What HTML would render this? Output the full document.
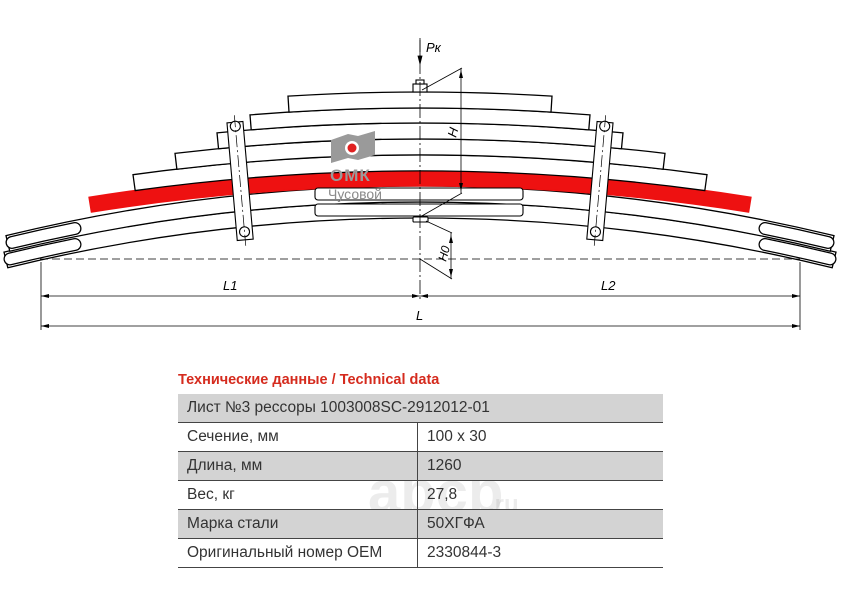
<!DOCTYPE html>
<html><head><meta charset="utf-8">
<style>
body{margin:0;background:#fff;width:842px;height:595px;overflow:hidden;font-family:"Liberation Sans",sans-serif}
#t{position:absolute;left:178px;top:394px;border-collapse:collapse;width:485px;font-size:15.5px;color:#333}
#t td{height:28px;padding:0 0 0 9px;line-height:28px;border-bottom:1px solid #444;vertical-align:middle}
#t tr.g td{background:#d3d3d3}
#t td.c2{border-left:1px solid #444}
#title{position:absolute;left:178px;top:372px;color:#d52b1e;font-weight:bold;font-size:14.5px}
</style></head><body>
<svg id="s" width="842" height="595" style="position:absolute;left:0;top:0" xmlns="http://www.w3.org/2000/svg">
<g id="leaves" stroke="#000" stroke-width="1.3" fill="#fff"></g>
<g stroke="#000" stroke-width="1.1" fill="#fff">
<rect x="315" y="188" width="208" height="12" rx="3"/>
<rect x="315" y="204" width="208" height="12" rx="3"/>
<g transform="rotate(-5 240 180)"><rect x="232" y="122" width="16" height="118"/><circle cx="240" cy="126" r="5"/><circle cx="240" cy="232" r="5"/><line x1="240" y1="115" x2="240" y2="246" stroke-dasharray="12 3 2 3" stroke-width="0.7"/></g>
<g transform="rotate(5 600 180)"><rect x="592" y="122" width="16" height="118"/><circle cx="600" cy="126" r="5"/><circle cx="600" cy="232" r="5"/><line x1="600" y1="115" x2="600" y2="246" stroke-dasharray="12 3 2 3" stroke-width="0.7"/></g>
<rect x="413" y="84" width="14" height="8"/><rect x="416" y="80" width="8" height="4"/>
<rect x="413" y="217" width="15" height="5" rx="1"/>
</g>
<g>
<path d="M331 140 L348 134 L358 136 L375 131 L375 155 L358 160 L348 158 L331 163Z" fill="#9a9a9a"/>
<circle cx="352" cy="148" r="7" fill="#fff"/><circle cx="352" cy="148" r="4.5" fill="#e02020"/>
<text x="330" y="181" font-size="17" font-weight="bold" fill="#9a9a9a" letter-spacing="1">ОМК</text>
<text x="328" y="199" font-size="14" fill="#8a8a8a">Чусовой</text>
</g>
<g stroke="#000" stroke-width="0.8" fill="none">
<line x1="420" y1="38" x2="420" y2="300" stroke-dasharray="14 3 2 3"/>
<line x1="40" y1="259" x2="800" y2="259" stroke-dasharray="8 4"/>
<line x1="420" y1="40" x2="420" y2="60"/>
<path d="M418 56 L420 64 L422 56Z" fill="#000"/>
<line x1="422" y1="90" x2="462" y2="68"/><line x1="461" y1="68" x2="461" y2="193"/><line x1="420" y1="217" x2="462" y2="193"/>
<line x1="426" y1="221" x2="452" y2="233"/><line x1="451" y1="233" x2="451" y2="279"/><line x1="420" y1="259" x2="452" y2="279"/>
<line x1="41" y1="262" x2="41" y2="330"/><line x1="800" y1="262" x2="800" y2="330"/>
<line x1="41" y1="296" x2="800" y2="296"/><line x1="41" y1="326" x2="800" y2="326"/>
</g>
<g fill="#000">
<path d="M459 78 L461 70 L463 78Z"/><path d="M459 183 L461 191 L463 183Z"/>
<path d="M449 243 L451 235 L453 243Z"/><path d="M449 269 L451 277 L453 269Z"/>
<path d="M49 294 L41 296 L49 298Z"/><path d="M412 294 L420 296 L412 298Z"/><path d="M428 294 L420 296 L428 298Z"/><path d="M792 294 L800 296 L792 298Z"/>
<path d="M49 324 L41 326 L49 328Z"/><path d="M792 324 L800 326 L792 328Z"/>
</g>
<g font-size="13" font-style="italic" fill="#000">
<text x="426" y="52">Pк</text>
<text x="223" y="290">L1</text><text x="601" y="290">L2</text><text x="416" y="320">L</text>
<text transform="translate(456 138) rotate(-75)">H</text>
<text transform="translate(446 262) rotate(-75)" font-size="12">H0</text>
</g>
<text x="368" y="512" font-size="58" font-weight="bold" fill="#000" opacity="0.07">abcp</text>
<text x="488" y="512" font-size="24" font-weight="bold" fill="#000" opacity="0.07">.ru</text>
</svg>
<div id="title">Технические данные / Technical data</div>
<table id="t">
<tr class="g"><td colspan="2">Лист №3 рессоры 1003008SC-2912012-01</td></tr>
<tr><td style="width:230px">Сечение, мм</td><td class="c2">100 x 30</td></tr>
<tr class="g"><td>Длина, мм</td><td class="c2">1260</td></tr>
<tr><td>Вес, кг</td><td class="c2">27,8</td></tr>
<tr class="g"><td>Марка стали</td><td class="c2">50ХГФА</td></tr>
<tr><td>Оригинальный номер OEM</td><td class="c2">2330844-3</td></tr>
</table>
<script>
var g=document.getElementById('leaves'),ns='http://www.w3.org/2000/svg';
function leaf(top,t,h,fill,R){R=R||2100;var cy=top+R,th=Math.asin(h/R),s=Math.sin(th),c=Math.cos(th),r2=R-t;
var d='M'+(420-R*s)+' '+(cy-R*c)+' A'+R+' '+R+' 0 0 1 '+(420+R*s)+' '+(cy-R*c)+' L'+(420+r2*s)+' '+(cy-r2*c)+' A'+r2+' '+r2+' 0 0 0 '+(420-r2*s)+' '+(cy-r2*c)+'Z';
var p=document.createElementNS(ns,'path');p.setAttribute('d',d);if(fill){p.setAttribute('fill',fill);p.setAttribute('stroke',fill);}g.appendChild(p);}
function endpad(top,t,h1,h2,R){var rm=R-t/2,cy=top+R;[-1,1].forEach(function(sg){
var a1=Math.asin(h1/rm),a2=Math.asin(h2/rm);
var d='M'+(420+sg*rm*Math.sin(a1))+' '+(cy-rm*Math.cos(a1))+' A'+rm+' '+rm+' 0 0 '+(sg>0?1:0)+' '+(420+sg*rm*Math.sin(a2))+' '+(cy-rm*Math.cos(a2));
[['#000',t-3],['#fff',t-5.5]].forEach(function(q){var p=document.createElementNS(ns,'path');p.setAttribute('d',d);p.setAttribute('fill','none');p.setAttribute('stroke',q[0]);p.setAttribute('stroke-width',q[1]);p.setAttribute('stroke-linecap','round');g.appendChild(p);});});}
leaf(202,16,416,null,1750);leaf(186,16,414,null,1750);
endpad(202,16,345,410,1750);endpad(186,16,345,408,1750);
leaf(171,15,331,'#ee1111');
leaf(155,16,287);leaf(139,16,245);leaf(123,16,203);leaf(108,15,170);leaf(92,16,132);
</script>
</body></html>
